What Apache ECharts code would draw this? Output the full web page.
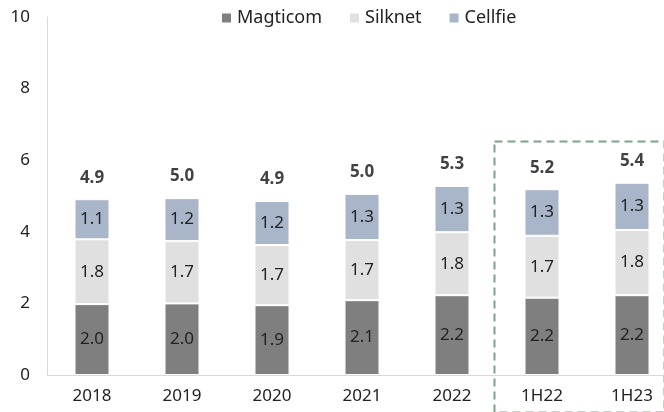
<!DOCTYPE html>
<html>
<head>
<meta charset="utf-8">
<script src="https://cdn.jsdelivr.net/npm/echarts@6/dist/echarts.min.js"></script>
<style>
  html, body { margin: 0; padding: 0; background: #fff; }
  #chart { width: 664px; height: 412px; }
</style>
</head>
<body>
<div id="chart"></div>
<script>
// 数据
const categories = ['2018', '2019', '2020', '2021', '2022', '1H22', '1H23'];
const magticom = [1.98, 2.0, 1.95, 2.09, 2.23, 2.16, 2.23];
const silknet = [1.81, 1.74, 1.68, 1.68, 1.76, 1.73, 1.82];
const cellfie = [1.12, 1.2, 1.23, 1.29, 1.29, 1.3, 1.32];
const totals = [4.9, 5.0, 4.9, 5.0, 5.3, 5.2, 5.4];
const yTicks = [0, 2, 4, 6, 8, 10];

const FONT = '"Noto Sans", sans-serif';

function segLabel() {
  return {
    show: true,
    position: 'inside',
    color: '#222',
    fontSize: 17,
    fontFamily: FONT,
    formatter: p => p.value.toFixed(1)
  };
}

function barSeries(name, data, color) {
  return {
    name: name,
    type: 'bar',
    stack: 'total',
    barWidth: 35,
    data: data,
    itemStyle: { color: color, borderColor: '#fff', borderWidth: 1 },
    label: segLabel()
  };
}

// 堆叠顶部位置，用于总计标签
const stackTops = categories.map((c, i) => magticom[i] + silknet[i] + cellfie[i]);

const chart = echarts.init(document.getElementById('chart'));
const option = {
  animation: false,
  grid: { left: 47, right: -13, top: 17, bottom: 37, outerBoundsMode: 'none' },
  legend: {
    top: 4,
    left: 215,
    itemWidth: 11,
    itemHeight: 11,
    itemGap: 26,
    icon: 'rect',
    textStyle: { color: '#222', fontSize: 18, fontFamily: FONT },
    data: ['Magticom', 'Silknet', 'Cellfie']
  },
  xAxis: {
    type: 'category',
    data: categories,
    axisLine: { lineStyle: { color: '#d9d9d9', width: 1 } },
    axisTick: { show: false },
    axisLabel: { color: '#222', fontSize: 17, fontFamily: FONT, margin: 13 }
  },
  yAxis: {
    type: 'value',
    min: yTicks[0],
    max: yTicks[yTicks.length - 1],
    interval: 2,
    axisLine: { show: true, lineStyle: { color: '#d9d9d9', width: 1 } },
    axisTick: { show: false },
    splitLine: { show: false },
    axisLabel: { color: '#222', fontSize: 17, fontFamily: FONT, margin: 17 }
  },
  series: [
    barSeries('Magticom', magticom, '#7f7f7f'),
    barSeries('Silknet', silknet, '#e0e0e0'),
    barSeries('Cellfie', cellfie, '#a9b5c9'),
    {
      name: 'total',
      type: 'scatter',
      symbolSize: 0,
      data: stackTops,
      silent: true,
      label: {
        show: true,
        position: 'top',
        distance: 13,
        color: '#111',
        fontWeight: 'bold',
        fontSize: 17,
        fontFamily: FONT,
        formatter: p => totals[p.dataIndex].toFixed(1)
      }
    }
  ],
  graphic: [
    {
      type: 'rect',
      left: 492,
      top: 139,
      shape: { width: 170, height: 271 },
      style: {
        fill: 'none',
        stroke: '#7da38c',
        lineWidth: 2,
        lineDash: [8, 5]
      }
    }
  ]
};
chart.setOption(option);
</script>
</body>
</html>
